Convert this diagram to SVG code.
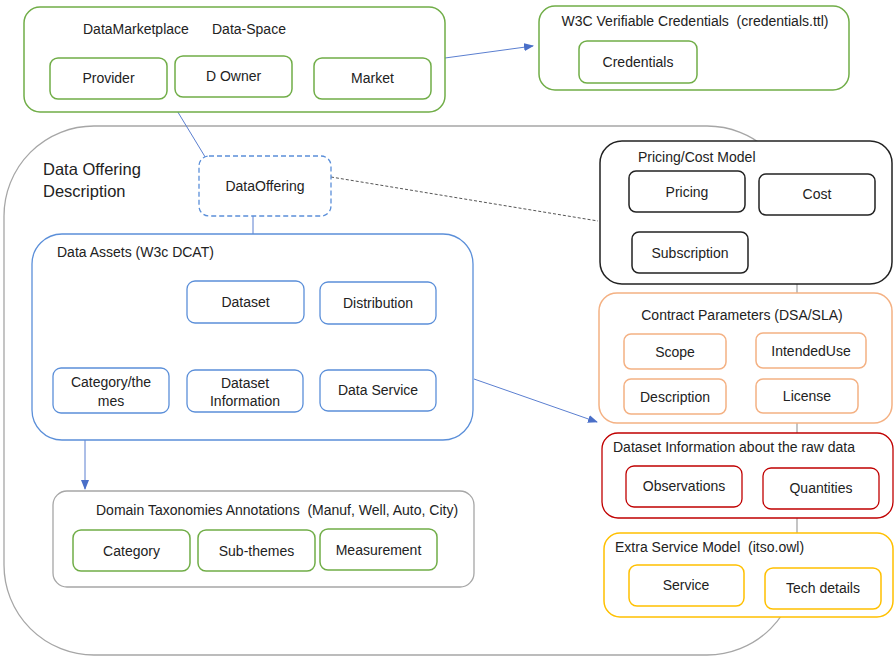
<svg xmlns="http://www.w3.org/2000/svg" width="894" height="656" viewBox="0 0 894 656">
<defs>
<style>
text{font-family:"Liberation Sans",Arial,sans-serif;font-size:14px;fill:#222;white-space:pre;}
.c{text-anchor:middle;}
.g{fill:#fff;stroke:#70AD47;stroke-width:1.5;}
.b{fill:#fff;stroke:#5B8FD9;stroke-width:1.3;}
.k{fill:#fff;stroke:#222;stroke-width:1.5;}
.o{fill:#fff;stroke:#F4B183;stroke-width:1.5;}
.r{fill:#fff;stroke:#C00000;stroke-width:1.3;}
.y{fill:#fff;stroke:#FFC000;stroke-width:1.5;}
.gr{fill:#fff;stroke:#A6A6A6;stroke-width:1.3;}
.ln{stroke:#5B7FD0;stroke-width:1;fill:none;}
</style>
<marker id="ah" markerWidth="10" markerHeight="8" refX="9" refY="4" orient="auto" markerUnits="userSpaceOnUse">
<path d="M0,0 L10,4 L0,8 z" fill="#4A6FC8"/>
</marker>
</defs>

<g id="outer">
<rect x="4" y="126" width="793" height="529" rx="90" fill="#fff" stroke="#A6A6A6" stroke-width="1.3"/>
<text x="43" y="175" style="font-size:16.5px">Data Offering</text>
<text x="43" y="197" style="font-size:16.5px">Description</text>
</g>

<g id="connectors">
<line class="ln" x1="445" y1="58" x2="533" y2="46" marker-end="url(#ah)"/>
<line class="ln" x1="176" y1="109" x2="207" y2="160"/>
<line class="ln" x1="253" y1="216" x2="253" y2="234"/>
<line x1="331" y1="177" x2="598" y2="221" stroke="#555" stroke-width="1" stroke-dasharray="3,2"/>
<line class="ln" x1="474" y1="379" x2="597" y2="422" marker-end="url(#ah)"/>
<line class="ln" x1="85" y1="405" x2="85" y2="489" marker-end="url(#ah)"/>
</g>

<g id="marketplace">
<rect class="g" x="24" y="7" width="421" height="105" rx="16"/>
<text x="83" y="34">DataMarketplace</text>
<text x="212" y="34">Data-Space</text>
<g id="provider"><rect class="g" x="50" y="58" width="117" height="41" rx="8"/><text class="c" x="108.5" y="83">Provider</text></g>
<g id="downer"><rect class="g" x="175" y="56" width="117" height="41" rx="8"/><text class="c" x="233.5" y="81">D Owner</text></g>
<g id="market"><rect class="g" x="314" y="58" width="117" height="41" rx="8"/><text class="c" x="372.5" y="83">Market</text></g>
</g>

<g id="w3c">
<rect class="g" x="539" y="6" width="310" height="84" rx="16"/>
<text class="c" x="695" y="26" xml:space="preserve">W3C Verifiable Credentials  (credentials.ttl)</text>
<g id="credentials"><rect class="g" x="579" y="41" width="118" height="42" rx="8"/><text class="c" x="638" y="67">Credentials</text></g>
</g>

<g id="dataoffering">
<rect x="199" y="156" width="132" height="60" rx="10" fill="#fff" stroke="#5B8FD9" stroke-width="1.3" stroke-dasharray="5,3"/>
<text class="c" x="265" y="191">DataOffering</text>
</g>

<g id="pricing">
<rect class="k" x="600" y="141" width="292" height="143" rx="22"/>
<text x="638" y="162">Pricing/Cost Model</text>
<g id="pricing-node"><rect class="k" x="629" y="171" width="116" height="41" rx="7"/><text class="c" x="687" y="197">Pricing</text></g>
<g id="cost"><rect class="k" x="759" y="174" width="116" height="41" rx="7"/><text class="c" x="817" y="199">Cost</text></g>
<g id="subscription"><rect class="k" x="632" y="232" width="116" height="41" rx="7"/><text class="c" x="690" y="258">Subscription</text></g>
</g>

<g id="contract">
<rect class="o" x="599" y="293" width="293" height="130" rx="18"/>
<text class="c" x="742" y="320">Contract Parameters (DSA/SLA)</text>
<g id="scope"><rect class="o" x="624" y="334" width="102" height="35" rx="7"/><text class="c" x="675" y="357">Scope</text></g>
<g id="intendeduse"><rect class="o" x="756" y="333" width="110" height="35" rx="7"/><text class="c" x="811" y="356">IntendedUse</text></g>
<g id="description"><rect class="o" x="624" y="379" width="102" height="35" rx="7"/><text class="c" x="675" y="402">Description</text></g>
<g id="license"><rect class="o" x="756" y="379" width="102" height="34" rx="7"/><text class="c" x="807" y="401">License</text></g>
</g>

<g id="datasetinfo">
<rect class="r" x="602" y="433" width="291" height="85" rx="16"/>
<text x="613" y="452">Dataset Information about the raw data</text>
<g id="observations"><rect class="r" x="626" y="466" width="116" height="41" rx="8"/><text class="c" x="684" y="491">Observations</text></g>
<g id="quantities"><rect class="r" x="763" y="468" width="116" height="41" rx="8"/><text class="c" x="821" y="493">Quantities</text></g>
</g>

<g id="extraservice">
<rect class="y" x="604" y="533" width="289" height="84" rx="16"/>
<text x="615" y="552" xml:space="preserve">Extra Service Model  (itso.owl)</text>
<g id="service"><rect class="y" x="629" y="565" width="115" height="41" rx="8"/><text class="c" x="686" y="590">Service</text></g>
<g id="techdetails"><rect class="y" x="765" y="568" width="116" height="41" rx="8"/><text class="c" x="823" y="593">Tech details</text></g>
</g>

<g id="dataassets">
<rect class="b" x="32" y="234" width="441" height="206" rx="30"/>
<text x="57" y="257">Data Assets (W3c DCAT)</text>
<g id="dataset"><rect class="b" x="187" y="281" width="117" height="42" rx="8"/><text class="c" x="245.5" y="307">Dataset</text></g>
<g id="distribution"><rect class="b" x="320" y="282" width="116" height="42" rx="8"/><text class="c" x="378" y="308">Distribution</text></g>
<g id="categorythemes"><rect class="b" x="53" y="368" width="116" height="45" rx="8"/><text class="c" x="111" y="387">Category/the</text><text class="c" x="111" y="406">mes</text></g>
<g id="datasetinformation"><rect class="b" x="187" y="370" width="116" height="42" rx="8"/><text class="c" x="245" y="388">Dataset</text><text class="c" x="245" y="406">Information</text></g>
<g id="dataservice"><rect class="b" x="320" y="370" width="116" height="41" rx="8"/><text class="c" x="378" y="395">Data Service</text></g>
</g>

<g id="domain">
<rect class="gr" x="53" y="491" width="421" height="96" rx="14"/>
<text x="96" y="515" xml:space="preserve">Domain Taxonomies Annotations  (Manuf, Well, Auto, City)</text>
<g id="category"><rect class="g" x="73" y="530" width="117" height="41" rx="8"/><text class="c" x="131.5" y="556">Category</text></g>
<g id="subthemes"><rect class="g" x="198" y="530" width="117" height="41" rx="8"/><text class="c" x="256.5" y="556">Sub-themes</text></g>
<g id="measurement"><rect class="g" x="320" y="529" width="117" height="41" rx="8"/><text class="c" x="378.5" y="555">Measurement</text></g>
</g>
</svg>
